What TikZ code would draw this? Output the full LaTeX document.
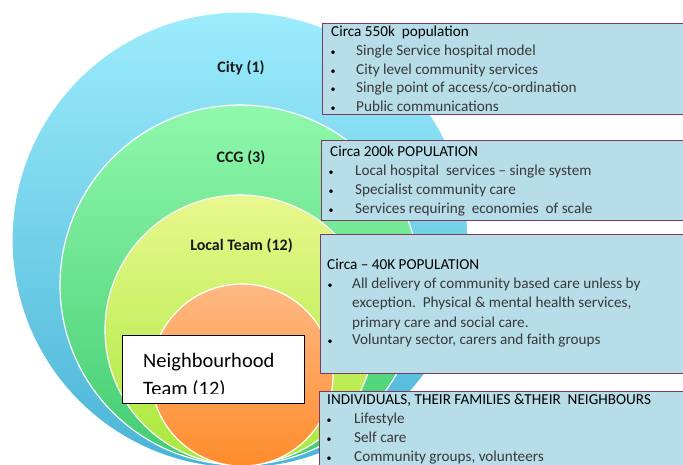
\documentclass[tikz,border=0pt]{standalone}
\usepackage{fontspec}
\setmainfont{Carlito}
\definecolor{cityT}{HTML}{9CECFC}
\definecolor{cityB}{HTML}{4AB4D6}
\definecolor{ccgT}{HTML}{90F8AC}
\definecolor{ccgB}{HTML}{42CC70}
\definecolor{locT}{HTML}{E8F88E}
\definecolor{locB}{HTML}{A8E83A}
\definecolor{nbT}{HTML}{FFB984}
\definecolor{nbB}{HTML}{FF8C2C}
\definecolor{boxfill}{HTML}{B7DDE8}
\definecolor{boxline}{HTML}{7E3A62}
\definecolor{txt}{HTML}{383838}
\begin{document}
\begin{tikzpicture}[x=1pt,y=-1pt,
  ring/.style={circle,inner sep=0pt,draw=white,line width=1.2pt},
  lvl/.style={font=\fontsize{16}{19}\selectfont\bfseries,text=black!90,inner sep=0pt},
  infobox/.style={rectangle,draw=boxline,line width=1.3pt,fill=boxfill,inner sep=0pt,anchor=north west},
  ln/.style={anchor=base west,inner sep=0pt,font=\fontsize{15.2}{18}\selectfont,text=txt},
  hd/.style={ln,text=black},
  bul/.style={anchor=base,inner sep=0pt,font=\fontsize{10}{12}\selectfont,text=black}]
\useasboundingbox (0,0) rectangle (683,464);
\clip (0,0) rectangle (683,464);
\fill[white] (0,0) rectangle (683,464);
% circles
\node[ring,minimum size=456pt,top color=cityT,bottom color=cityB] (city) at (240,240) {};
\node[ring,minimum size=360pt,top color=ccgT,bottom color=ccgB] (ccg) at (240,285) {};
\node[ring,minimum size=270pt,top color=locT,bottom color=locB] (loc) at (240,330) {};
\node[ring,minimum size=182pt,top color=nbT,bottom color=nbB] (nb) at (242,375) {};
% circle labels
\node[lvl] (lcity) at (241,68) {City (1)};
\node[lvl] (lccg) at (241,158) {CCG (3)};
\node[lvl] (lloc) at (241.5,246) {Local Team (12)};
% neighbourhood box
\node[rectangle,draw=black,line width=1pt,fill=white,minimum width=182pt,minimum height=68pt,anchor=north west] (nbbox) at (122,335) {};
\begin{scope}
\clip (123,336) rectangle (303,393);
\node[anchor=base west,inner sep=0pt,font=\fontsize{20.5}{24}\selectfont,text=black] (nbt1) at (143,367) {Neighbourhood};
\node[anchor=base west,inner sep=0pt,font=\fontsize{20.5}{24}\selectfont,text=black] (nbt2) at (143,395) {Team (12)};
\end{scope}
% info boxes
\node[infobox,minimum width=380pt,minimum height=91pt] (b1) at (322,23) {};
\node[infobox,minimum width=380pt,minimum height=80pt] (b2) at (321,140) {};
\node[infobox,minimum width=380pt,minimum height=139pt] (b3) at (320,234) {};
\node[infobox,minimum width=380pt,minimum height=90pt] (b4) at (319,391) {};
% box 1
\node[hd] (t1) at (331,36) {Circa 550k\ \ population};
\foreach \y/\t [count=\i] in {55/{Single Service hospital model},74/{City level community services},92.5/{Single point of access/co-ordination},111/{Public communications}}{
  \node[bul] (b1d\i) at (333,\y) {\textbullet};
  \node[ln] (b1t\i) at (356,\y) {\t};
}
% box 2
\node[hd] (t2) at (330,156) {Circa 200k POPULATION};
\foreach \y/\t [count=\i] in {175/{Local hospital\ \ services – single system},194/{Specialist community care},213/{Services requiring\ \ economies\ \ of scale}}{
  \node[bul] (b2d\i) at (331,\y) {\textbullet};
  \node[ln] (b2t\i) at (355,\y) {\t};
}
% box 3
\node[hd] (t3) at (327,269) {Circa – 40K POPULATION};
\node[bul] (b3d1) at (330,288) {\textbullet};
\node[ln] (b3t1) at (352,288) {All delivery of community based care unless by};
\node[ln] (b3t2) at (352,307.5) {exception.\ \ Physical \& mental health services,};
\node[ln] (b3t3) at (352,327) {primary care and social care.};
\node[bul] (b3d2) at (330,344) {\textbullet};
\node[ln] (b3t4) at (352,344) {Voluntary sector, carers and faith groups};
% box 4
\node[hd] (t4) at (327,404) {INDIVIDUALS, THEIR FAMILIES \&THEIR\ \ NEIGHBOURS};
\foreach \y/\t [count=\i] in {423/{Lifestyle},442/{Self care},461/{Community groups, volunteers}}{
  \node[bul] (b4d\i) at (329,\y) {\textbullet};
  \node[ln] (b4t\i) at (354,\y) {\t};
}
\end{tikzpicture}
\end{document}
